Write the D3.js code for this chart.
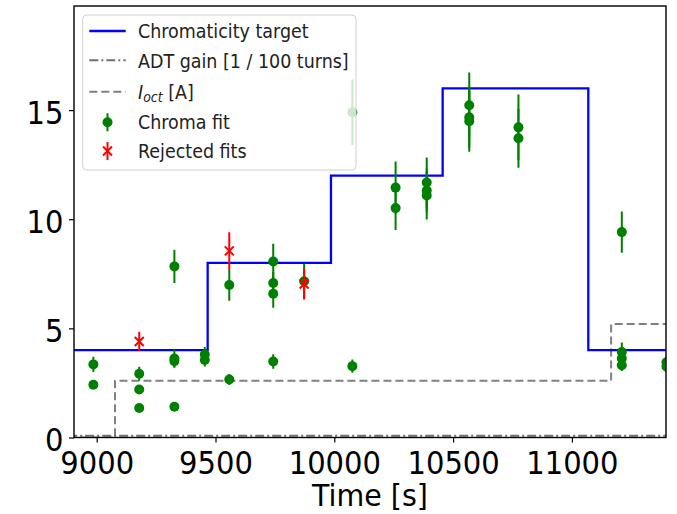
<!DOCTYPE html>
<html>
<head>
<meta charset="utf-8">
<script src="https://cdn.jsdelivr.net/npm/d3@7"></script>
<style>
  body { margin: 0; background: #fff; }
  svg { display: block; font-family: "DejaVu Sans", sans-serif; }
</style>
</head>
<body>
<svg id="chart" width="677" height="514"></svg>
<script>
// chromaticity target steps (time where each level starts)
var targetTime = [8880, 9467, 9986, 10456, 11069, 11420];
var targetVal  = [4, 8, 12, 16, 4, 4];

// octupole current steps
var ioctTime = [8880, 9077, 11165, 11420];
var ioctVal  = [0, 2.6, 5.2, 5.2];

// ADT gain, constant
var adtTime = [8880, 11420];
var adtVal  = [0.08, 0.08];

// accepted chroma fits: time, value, error
var fitTime = [8986, 8986, 9179, 9179, 9179, 9327, 9327, 9327, 9327, 9455, 9455,
               9558, 9558, 9743, 9743, 9743, 9743, 9873, 10076, 10076,
               10258, 10258, 10389, 10389, 10389, 10568, 10568, 10568, 10775, 10775,
               11210, 11210, 11210, 11210, 11398, 11398];
var fitVal  = [3.35, 2.42, 2.92, 2.2, 1.35, 7.84, 3.62, 3.5, 1.41, 3.8, 3.55,
               6.99, 2.66, 8.06, 7.08, 6.59, 3.48, 7.16, 3.27, 14.9,
               11.45, 10.51, 11.68, 11.32, 11.09, 15.22, 14.67, 14.49, 14.21, 13.71,
               9.41, 3.92, 3.62, 3.31, 3.45, 3.25];
var fitErr  = [0.35, 0.15, 0.32, 0.15, 0.15, 0.76, 0.4, 0.3, 0.15, 0.35, 0.3,
               0.72, 0.25, 0.82, 0.5, 0.65, 0.33, 0.8, 0.3, 1.5,
               1.2, 1.0, 1.15, 1.0, 1.1, 1.5, 1.4, 1.4, 1.5, 1.35,
               0.95, 0.43, 0.3, 0.26, 0.3, 0.25];

// rejected fits
var rejTime = [9179, 9558, 9873];
var rejVal  = [4.4, 8.55, 7.03];
var rejErr  = [0.45, 0.85, 0.71];

var yTicks = [0, 5, 10, 15];
var xTicks = [9000, 9500, 10000, 10500, 11000];

var legendLabels = ['Chromaticity target', 'ADT gain [1 / 100 turns]', 'I_oct [A]', 'Chroma fit', 'Rejected fits'];

(function(){
    var svg = d3.select('#chart');
    var m = {l: 74, r: 666, t: 6, b: 437.5};
    var sy = 1.1; // text looks stretched vertically

    var x = d3.scaleLinear().domain([8904.5, 11396]).range([m.l, m.r]);
    var y = d3.scaleLinear().domain([0, 19.77]).range([m.b, m.t]);

    svg.append('defs').append('clipPath').attr('id', 'clip')
        .append('rect').attr('x', m.l).attr('y', m.t)
        .attr('width', m.r - m.l).attr('height', m.b - m.t);

    var plot = svg.append('g').attr('clip-path', 'url(#clip)');

    var step = d3.line().curve(d3.curveStepAfter)
        .x(function(d){ return x(d[0]); })
        .y(function(d){ return y(d[1]); });

    plot.append('path')
        .datum(d3.zip(ioctTime, ioctVal))
        .attr('d', step)
        .attr('fill', 'none').attr('stroke', '#808080')
        .attr('stroke-width', 2).attr('stroke-dasharray', '8,4');

    plot.append('path')
        .datum(d3.zip(adtTime, adtVal))
        .attr('d', step)
        .attr('fill', 'none').attr('stroke', '#707070')
        .attr('stroke-width', 2).attr('stroke-dasharray', '9,3,2,3');

    plot.append('path')
        .datum(d3.zip(targetTime, targetVal))
        .attr('d', step)
        .attr('fill', 'none').attr('stroke', '#0000ff')
        .attr('stroke-width', 2.3);

    // accepted fits
    var fits = d3.zip(fitTime, fitVal, fitErr);
    var g1 = plot.append('g');
    g1.selectAll('line').data(fits).enter().append('line')
        .attr('x1', function(d){ return x(d[0]); })
        .attr('x2', function(d){ return x(d[0]); })
        .attr('y1', function(d){ return y(d[1] - d[2]); })
        .attr('y2', function(d){ return y(d[1] + d[2]); })
        .attr('stroke', '#008000').attr('stroke-width', 2);
    g1.selectAll('circle').data(fits).enter().append('circle')
        .attr('cx', function(d){ return x(d[0]); })
        .attr('cy', function(d){ return y(d[1]); })
        .attr('r', 5).attr('fill', '#008000');

    // rejected fits
    var rej = d3.zip(rejTime, rejVal, rejErr);
    var g2 = plot.append('g');
    g2.selectAll('line.bar').data(rej).enter().append('line')
        .attr('x1', function(d){ return x(d[0]); })
        .attr('x2', function(d){ return x(d[0]); })
        .attr('y1', function(d){ return y(d[1] - d[2]); })
        .attr('y2', function(d){ return y(d[1] + d[2]); })
        .attr('stroke', '#ff0000').attr('stroke-width', 2);
    g2.selectAll('path').data(rej).enter().append('path')
        .attr('d', function(d){
            var cx = x(d[0]), cy = y(d[1]), s = 4.5;
            return 'M'+(cx-s)+','+(cy-s)+'L'+(cx+s)+','+(cy+s)+'M'+(cx-s)+','+(cy+s)+'L'+(cx+s)+','+(cy-s);
        })
        .attr('stroke', '#ff0000').attr('stroke-width', 2);

    // axes
    var xAxis = svg.append('g').attr('transform', 'translate(0,' + m.b + ')')
        .call(d3.axisBottom(x).tickValues(xTicks).tickSize(5).tickFormat(d3.format('d')));
    xAxis.select('.domain').remove();
    xAxis.selectAll('text')
        .attr('font-size', 29).attr('font-family', '"DejaVu Sans", sans-serif')
        .attr('fill', '#000').attr('dy', 0).attr('y', 36.8 / sy)
        .attr('transform', 'scale(1,' + sy + ')');

    var yAxis = svg.append('g').attr('transform', 'translate(' + m.l + ',0)')
        .call(d3.axisLeft(y).tickValues(yTicks).tickSize(5));
    yAxis.select('.domain').remove();
    yAxis.selectAll('text')
        .attr('font-size', 29).attr('font-family', '"DejaVu Sans", sans-serif')
        .attr('fill', '#000').attr('dy', 0).attr('x', -10.5).attr('y', 13.3 / sy)
        .attr('transform', 'scale(1,' + sy + ')');
    svg.selectAll('.tick line').attr('stroke', '#000').attr('stroke-width', 1.2);

    svg.append('rect')
        .attr('x', m.l).attr('y', m.t)
        .attr('width', m.r - m.l).attr('height', m.b - m.t)
        .attr('fill', 'none').attr('stroke', '#000').attr('stroke-width', 1.4);

    svg.append('text')
        .attr('transform', 'translate(370,506) scale(1,1.08)')
        .attr('text-anchor', 'middle')
        .attr('font-size', 28.5).attr('fill', '#000')
        .text('Time [s]');

    // legend
    var lg = svg.append('g');
    lg.append('rect')
        .attr('x', 82.7).attr('y', 15).attr('width', 273.3).attr('height', 155)
        .attr('rx', 4).attr('fill', '#fff').attr('fill-opacity', 0.8)
        .attr('stroke', '#d0d0d0').attr('stroke-width', 1);

    var rowY = [31, 60.3, 91.7, 122.3, 151];
    var baseY = [38.3, 67.7, 98.5, 129.3, 157.7];
    var hx0 = 89.3, hx1 = 125.7, hxc = 107.5;

    lg.append('line').attr('x1', hx0).attr('x2', hx1).attr('y1', rowY[0]).attr('y2', rowY[0])
        .attr('stroke', '#0000ff').attr('stroke-width', 2.3);
    lg.append('line').attr('x1', hx0).attr('x2', hx1).attr('y1', rowY[1]).attr('y2', rowY[1])
        .attr('stroke', '#707070').attr('stroke-width', 2).attr('stroke-dasharray', '9,3,2,3');
    lg.append('line').attr('x1', hx0).attr('x2', hx1).attr('y1', rowY[2]).attr('y2', rowY[2])
        .attr('stroke', '#808080').attr('stroke-width', 2).attr('stroke-dasharray', '8,4');
    lg.append('line').attr('x1', hxc).attr('x2', hxc).attr('y1', rowY[3] - 9).attr('y2', rowY[3] + 9)
        .attr('stroke', '#008000').attr('stroke-width', 2);
    lg.append('circle').attr('cx', hxc).attr('cy', rowY[3]).attr('r', 5).attr('fill', '#008000');
    lg.append('line').attr('x1', hxc).attr('x2', hxc).attr('y1', rowY[4] - 9).attr('y2', rowY[4] + 9)
        .attr('stroke', '#ff0000').attr('stroke-width', 2);
    lg.append('path')
        .attr('d', 'M'+(hxc-4.5)+','+(rowY[4]-4.5)+'L'+(hxc+4.5)+','+(rowY[4]+4.5)+'M'+(hxc-4.5)+','+(rowY[4]+4.5)+'L'+(hxc+4.5)+','+(rowY[4]-4.5))
        .attr('stroke', '#ff0000').attr('stroke-width', 2);

    legendLabels.forEach(function(lab, i){
        var t = lg.append('text')
            .attr('transform', 'translate(138,' + baseY[i] + ') scale(1,' + sy + ')')
            .attr('font-size', 17.5).attr('fill', '#222');
        if (lab.indexOf('I_oct') === 0) {
            t.append('tspan').attr('font-style', 'italic').text('I');
            t.append('tspan').attr('font-style', 'italic').attr('font-size', 12.5)
                .attr('dy', 3.5).text('oct');
            t.append('tspan').attr('dy', -3.5).text(' [A]');
        } else {
            t.text(lab);
        }
    });
})();
</script>
</body>
</html>
